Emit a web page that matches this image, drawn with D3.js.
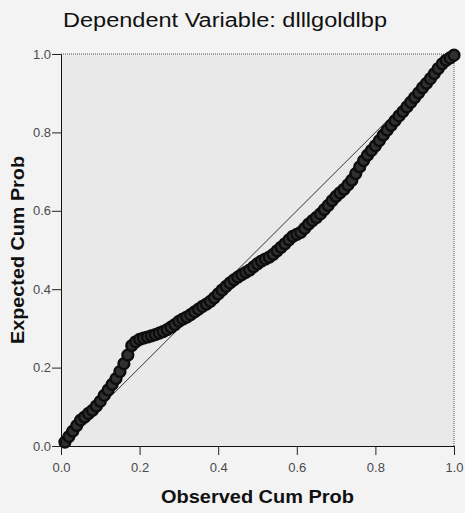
<!DOCTYPE html>
<html>
<head>
<meta charset="utf-8">
<script src="https://cdn.jsdelivr.net/npm/d3@7"></script>
<style>
  html, body { margin: 0; padding: 0; background: #f3f3f3; }
  svg { display: block; font-family: "Liberation Sans", Arial, sans-serif; }
  .tick text { fill: #4a4a4a; font-size: 13px; }
  .tick line { stroke: #222; }
  .domain { stroke: #111; }
</style>
</head>
<body>
<svg id="pp" width="465" height="513"></svg>
<script>
let title = 'Dependent Variable: dlllgoldlbp'
let xLabel = 'Observed Cum Prob'
let yLabel = 'Expected Cum Prob'
let tickValues = [0, 0.2, 0.4, 0.6, 0.8, 1.0]

// observed cumulative probability (x) and expected cumulative probability (y)
let observed = [0.01, 0.02, 0.03, 0.04, 0.05, 0.06, 0.07, 0.08, 0.09, 0.10,
	0.11, 0.12, 0.13, 0.14, 0.15, 0.16, 0.17, 0.18, 0.19, 0.20,
	0.21, 0.22, 0.23, 0.24, 0.25, 0.26, 0.27, 0.28, 0.29, 0.30,
	0.31, 0.32, 0.33, 0.34, 0.35, 0.36, 0.37, 0.38, 0.39, 0.40,
	0.41, 0.42, 0.43, 0.44, 0.45, 0.46, 0.47, 0.48, 0.49, 0.50,
	0.51, 0.52, 0.53, 0.54, 0.55, 0.56, 0.57, 0.58, 0.59, 0.60,
	0.61, 0.62, 0.63, 0.64, 0.65, 0.66, 0.67, 0.68, 0.69, 0.70,
	0.71, 0.72, 0.73, 0.74, 0.75, 0.76, 0.77, 0.78, 0.79, 0.80,
	0.81, 0.82, 0.83, 0.84, 0.85, 0.86, 0.87, 0.88, 0.89, 0.90,
	0.91, 0.92, 0.93, 0.94, 0.95, 0.96, 0.97, 0.98, 0.99, 1.00]
let expected = [0.010, 0.024, 0.038, 0.052, 0.066, 0.074, 0.083, 0.091, 0.102, 0.114,
	0.129, 0.143, 0.157, 0.172, 0.190, 0.210, 0.232, 0.256, 0.266, 0.272,
	0.275, 0.278, 0.281, 0.284, 0.288, 0.292, 0.297, 0.303, 0.310, 0.318,
	0.324, 0.329, 0.335, 0.342, 0.349, 0.356, 0.362, 0.369, 0.378, 0.388,
	0.398, 0.407, 0.416, 0.424, 0.431, 0.437, 0.443, 0.449, 0.457, 0.465,
	0.472, 0.477, 0.482, 0.489, 0.498, 0.507, 0.516, 0.526, 0.535, 0.540,
	0.545, 0.555, 0.566, 0.575, 0.583, 0.592, 0.603, 0.614, 0.626, 0.637,
	0.646, 0.655, 0.666, 0.678, 0.695, 0.712, 0.728, 0.742, 0.754, 0.766,
	0.779, 0.793, 0.806, 0.818, 0.830, 0.842, 0.853, 0.865, 0.877, 0.889,
	0.901, 0.914, 0.925, 0.937, 0.950, 0.963, 0.975, 0.984, 0.990, 0.997]

let svg = d3.select('#pp')
let margin = { left: 61, right: 11, top: 54, bottom: 67 }
let W = 465, H = 513

let x = d3.scaleLinear().domain([0, 1]).range([margin.left, W - margin.right])
let y = d3.scaleLinear().domain([0, 1]).range([H - margin.bottom, margin.top])

// plot background
svg.append('rect')
	.attr('x', x(0)).attr('y', y(1))
	.attr('width', x(1) - x(0)).attr('height', y(0) - y(1))
	.attr('fill', '#e9e9e9')

// dotted top and right frame
svg.append('path')
	.attr('d', 'M' + x(0) + ',' + y(1) + 'H' + x(1) + 'V' + y(0))
	.attr('fill', 'none').attr('stroke', '#555').attr('stroke-dasharray', '1,1')

// reference diagonal
svg.append('line')
	.attr('x1', x(0)).attr('y1', y(0)).attr('x2', x(1)).attr('y2', y(1))
	.attr('stroke', '#333').attr('stroke-width', 1)

let data = observed.map((o, i) => ({ o: o, e: expected[i] }))

svg.append('g').selectAll('circle').data(data).enter().append('circle')
	.attr('cx', d => x(d.o))
	.attr('cy', d => y(d.e))
	.attr('r', 5.4)
	.attr('fill', '#303030')
	.attr('stroke', '#0d0d0d')
	.attr('stroke-width', 2.4)

let fmt = d3.format('.1f')
svg.append('g')
	.attr('transform', 'translate(0,' + y(0) + ')')
	.call(d3.axisBottom(x).tickValues(tickValues).tickFormat(fmt).tickSize(9).tickSizeOuter(0).tickPadding(8))

svg.append('g')
	.attr('transform', 'translate(' + x(0) + ',0)')
	.call(d3.axisLeft(y).tickValues(tickValues).tickFormat(fmt).tickSize(9).tickSizeOuter(0).tickPadding(1))

svg.append('text').text(title)
	.attr('x', 63).attr('y', 27)
	.attr('textLength', 324).attr('lengthAdjust', 'spacingAndGlyphs')
	.style('font-size', '20px').attr('fill', '#111')

svg.append('text').text(xLabel)
	.attr('x', (x(0) + x(1)) / 2).attr('y', 503)
	.attr('text-anchor', 'middle')
	.attr('textLength', 193).attr('lengthAdjust', 'spacingAndGlyphs')
	.style('font-size', '18.5px').style('font-weight', 'bold').attr('fill', '#111')

svg.append('text').text(yLabel)
	.attr('transform', 'translate(24,' + (y(0) + y(1)) / 2 + ') rotate(-90)')
	.attr('text-anchor', 'middle')
	.attr('textLength', 188).attr('lengthAdjust', 'spacingAndGlyphs')
	.style('font-size', '18.5px').style('font-weight', 'bold').attr('fill', '#111')
</script>
</body>
</html>
